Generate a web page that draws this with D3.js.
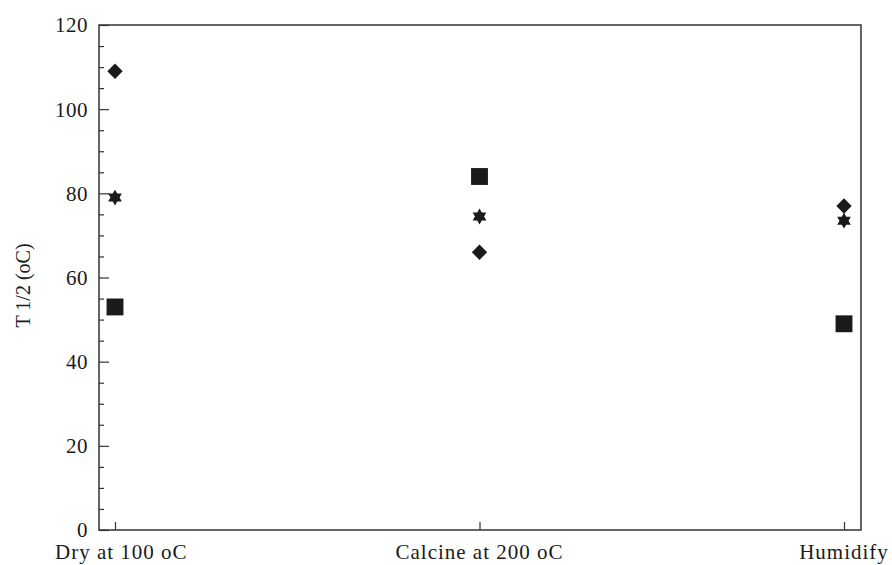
<!DOCTYPE html>
<html>
<head>
<meta charset="utf-8">
<script src="https://cdn.jsdelivr.net/npm/d3@7"></script>
<style>
  html, body { margin: 0; padding: 0; background: #fff; }
  svg { display: block; }
  text { font-family: "Liberation Serif", "Times New Roman", serif; fill: #1a1a1a; }
</style>
</head>
<body>
<svg id="chart" width="892" height="565"></svg>
<script>
// Treatments along the x axis
const categories = ["Dry at 100 oC", "Calcine at 200 oC", "Humidify"];

// Half-conversion temperature T 1/2 (oC) for each series
const diamondValues = [109, 66, 77];
const starValues = [79, 74.5, 73.5];
const squareValues = [53, 84, 49];

// Axis ticks
const yMajorTicks = [0, 20, 40, 60, 80, 100, 120];
const yMinorTicks = d3.range(0, 121, 5);

const W = 892, H = 565;
const frame = { left: 99, right: 861, top: 25, bottom: 530 };
const ink = "#1a1a1a";
const axisInk = "#333";

const svg = d3.select("#chart");

const x = d3.scalePoint()
  .domain(categories)
  .range([115, 844]);

const y = d3.scaleLinear()
  .domain([0, 120])
  .range([frame.bottom, frame.top]);

// Plot frame
svg.append("rect")
  .attr("x", frame.left)
  .attr("y", frame.top)
  .attr("width", frame.right - frame.left)
  .attr("height", frame.bottom - frame.top)
  .attr("fill", "none")
  .attr("stroke", axisInk)
  .attr("stroke-width", 1.5);

// Left axis: inward ticks, long at majors, short at every 5 degrees
const yAxisMinor = d3.axisRight(y)
  .tickValues(yMinorTicks.filter(v => !yMajorTicks.includes(v)))
  .tickSize(5)
  .tickFormat("");
const yAxisMajor = d3.axisRight(y)
  .tickValues(yMajorTicks)
  .tickSize(10)
  .tickFormat("");

svg.append("g").attr("transform", `translate(${frame.left},0)`).call(yAxisMinor)
  .call(g => g.select(".domain").remove())
  .call(g => g.selectAll("line").attr("stroke", axisInk).attr("stroke-width", 1.2));
svg.append("g").attr("transform", `translate(${frame.left},0)`).call(yAxisMajor)
  .call(g => g.select(".domain").remove())
  .call(g => g.selectAll("line").attr("stroke", axisInk).attr("stroke-width", 1.2));

// Left tick labels
svg.append("g").selectAll("text")
  .data(yMajorTicks)
  .join("text")
  .attr("x", frame.left - 11)
  .attr("y", d => y(d))
  .attr("dy", "0.35em")
  .attr("text-anchor", "end")
  .attr("font-size", 21)
  .attr("letter-spacing", 0.5)
  .text(d => d);

// Bottom axis: short inward ticks at each treatment
const xAxis = d3.axisTop(x).tickSize(8).tickFormat("");
svg.append("g").attr("transform", `translate(0,${frame.bottom})`).call(xAxis)
  .call(g => g.select(".domain").remove())
  .call(g => g.selectAll("line").attr("stroke", axisInk).attr("stroke-width", 1.2));

// Category labels, kept inside the page margins
const catLabels = svg.append("g").selectAll("text")
  .data(categories)
  .join("text")
  .attr("x", d => x(d))
  .attr("y", 559)
  .attr("text-anchor", "middle")
  .attr("font-size", 21)
  .attr("letter-spacing", 1)
  .text(d => d);

catLabels.each(function(d) {
  const bb = this.getBBox();
  let shift = 0;
  if (bb.x < 55) shift = 55 - bb.x;
  if (bb.x + bb.width > W - 3) shift = (W - 3) - (bb.x + bb.width);
  d3.select(this).attr("x", x(d) + shift);
});

// Y axis title
svg.append("text")
  .attr("transform", `translate(30,${(frame.top + frame.bottom) / 2 + 8}) rotate(-90)`)
  .attr("text-anchor", "middle")
  .attr("font-size", 20)
  .text("T 1/2 (oC)");

// Marker shapes
const hexagram = {
  draw(ctx, size) {
    const r = Math.sqrt(size / 2.0);
    const ri = r / Math.sqrt(3);
    for (let i = 0; i < 12; i++) {
      const a = -Math.PI / 2 + i * Math.PI / 6;
      const rr = i % 2 === 0 ? r : ri;
      const px = rr * Math.cos(a), py = rr * Math.sin(a);
      if (i === 0) ctx.moveTo(px, py); else ctx.lineTo(px, py);
    }
    ctx.closePath();
  }
};
const diamond = {
  draw(ctx, size) {
    const h = Math.sqrt(size / 2);
    ctx.moveTo(0, -h);
    ctx.lineTo(h, 0);
    ctx.lineTo(0, h);
    ctx.lineTo(-h, 0);
    ctx.closePath();
  }
};

const series = [
  { values: diamondValues, type: diamond, size: 118 },
  { values: starValues, type: hexagram, size: 125 },
  { values: squareValues, type: d3.symbolSquare, size: 285 }
];

series.forEach(s => {
  svg.append("g").selectAll("path")
    .data(s.values.map((v, i) => ({ cat: categories[i], v })))
    .join("path")
    .attr("transform", d => `translate(${x(d.cat)},${y(d.v)})`)
    .attr("d", d3.symbol().type(s.type).size(s.size))
    .attr("fill", ink);
});
</script>
</body>
</html>
